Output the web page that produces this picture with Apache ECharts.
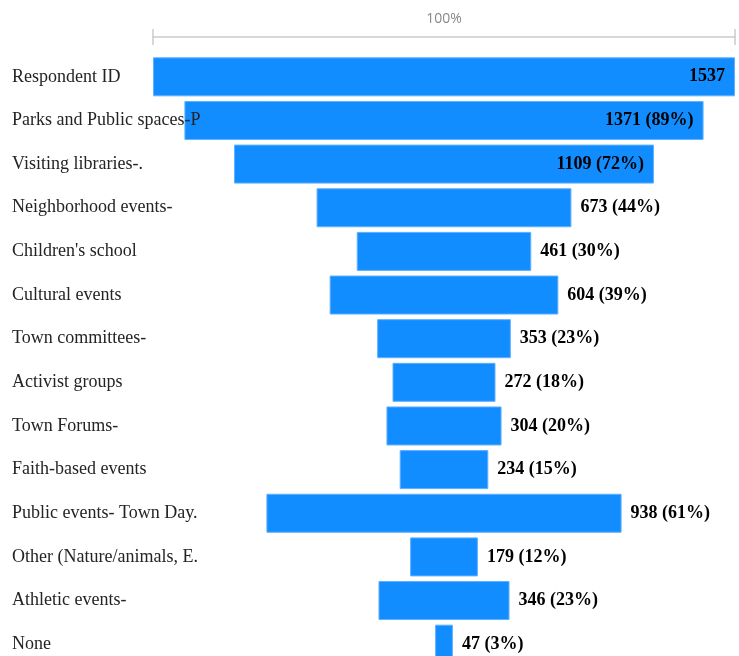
<!DOCTYPE html>
<html><head><meta charset="utf-8">
<script src="https://cdn.jsdelivr.net/npm/echarts@6/dist/echarts.min.js"></script>
<style>html,body{margin:0;padding:0;background:#fff;overflow:hidden}#c{width:739px;height:672px}</style>
</head><body><div id="c"></div>
<script>
const categories = ["Respondent ID","Parks and Public spaces-P","Visiting libraries-.","Neighborhood events-","Children's school","Cultural events","Town committees-","Activist groups","Town Forums-","Faith-based events","Public events- Town Day.","Other (Nature/animals, E.","Athletic events-","None"];
const values = [1537,1371,1109,673,461,604,353,272,304,234,938,179,346,47];
const topLabel = "100%";

const maxV = values[0];
const pad = values.map(v => (maxV - v) / 2);
const chart = echarts.init(document.getElementById('c'));
const serif = '"Liberation Serif", "Times New Roman", serif';
chart.setOption({
  animation: false,
  grid: {left: 153, width: 582, top: 55, height: 611},
  xAxis: [
    {type: 'value', min: 0, max: maxV, interval: maxV, position: 'top', offset: 18,
     axisLine: {show: true, lineStyle: {color: '#cccccc', width: 1.5}},
     axisTick: {show: true, length: 8, lineStyle: {color: '#cccccc', width: 1.5}},
     axisLabel: {show: false}, splitLine: {show: false},
     name: topLabel, nameLocation: 'middle', nameGap: 11,
     nameTextStyle: {color: '#888', fontSize: 14, fontFamily: '"Open Sans", sans-serif'}},
    {type: 'value', min: 0, max: maxV, interval: maxV, position: 'top', offset: 18,
     axisLine: {show: false},
     axisTick: {show: true, inside: true, length: 8, lineStyle: {color: '#cccccc', width: 1.5}},
     axisLabel: {show: false}, splitLine: {show: false}}
  ],
  yAxis: {type: 'category', data: categories, inverse: true, z: 10,
    axisLine: {show: false}, axisTick: {show: false},
    axisLabel: {align: 'left', margin: 141, color: '#252423', fontSize: 18, fontFamily: serif}},
  series: [
    {type: 'bar', stack: 'f', data: pad, barWidth: 39, itemStyle: {color: 'transparent'}, silent: true},
    {type: 'bar', stack: 'f', barWidth: 39,
     data: values.map((v, i) => ({
       value: v,
       label: {position: v / maxV > 0.7 ? 'insideRight' : 'right', distance: v / maxV > 0.7 ? 10 : 9}
     })),
     itemStyle: {color: '#118DFF', borderColor: '#5fb0ff', borderWidth: 1},
     label: {show: true, color: '#000', fontSize: 18, fontWeight: 'bold', fontFamily: serif,
       formatter: p => p.dataIndex === 0 ? String(p.value) : p.value + ' (' + Math.round(p.value / maxV * 100) + '%)'}}
  ]
});
</script></body></html>
